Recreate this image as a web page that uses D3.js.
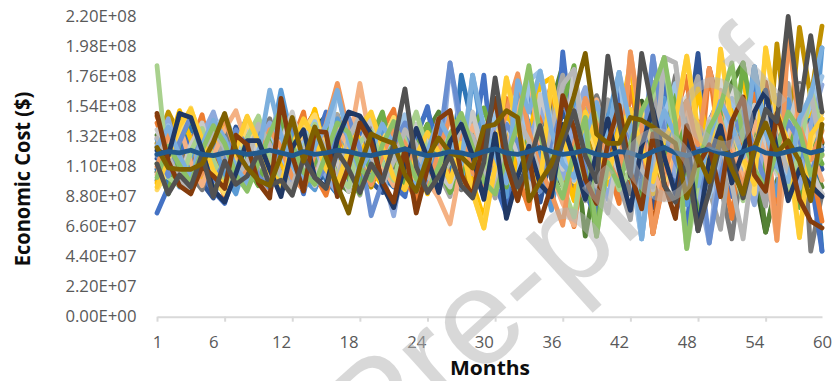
<!DOCTYPE html>
<html>
<head>
<meta charset="utf-8">
<script src="https://cdn.jsdelivr.net/npm/d3@7"></script>
<style>
  html, body { margin: 0; padding: 0; background: #ffffff; }
  svg { display: block; }
</style>
</head>
<body>
<svg id="chart" width="836" height="381"></svg>
<script>
// Month index of every data point
const months = [1,2,3,4,5,6,7,8,9,10,11,12,13,14,15,16,17,18,19,20,
  21,22,23,24,25,26,27,28,29,30,31,32,33,34,35,36,37,38,39,40,
  41,42,43,44,45,46,47,48,49,50,51,52,53,54,55,56,57,58,59,60];

// Axis ticks (cost ticks in millions of dollars)
const xTickLabels = [1, 6, 12, 18, 24, 30, 36, 42, 48, 54, 60];
const xTickMarks = [1, 7, 13, 19, 25, 31, 37, 43, 49, 55];
const yTicks = [0, 22, 44, 66, 88, 110, 132, 154, 176, 198, 220];

// Monthly economic cost per simulation run, millions of dollars
const run01 = [76,95,118,132,104,92,83,110,138,121, 97,142,118,90,126,150,112,95,133,148, 120,96,88,131,154,108,93,140,122,177, 98,75,150,168,112,84,194,120,92,71, 142,165,104,80,151,178,96,67,134,110, 160,88,123,183,95,74,152,130,102,48];
const run02 = [142,118,97,125,148,110,88,102,135,144, 116,92,128,150,104,89,121,143,98,112, 137,152,101,86,118,145,96,109,131,90, 122,160,104,79,142,170,98,66,125,156, 110,83,168,129,61,101,147,176,92,182, 119,72,140,163,99,84,208,146,113,70];
const run03 = [118,136,104,92,128,140,112,95,123,108, 91,117,139,122,100,134,148,113,89,126, 144,118,94,122,139,105,88,130,146,112, 87,135,164,120,96,145,177,110,85,128, 159,98,71,137,172,118,88,150,176,93, 64,128,157,112,81,143,171,96,125,150];
const run04 = [98,124,151,130,102,120,146,125,99,116, 140,113,94,128,152,119,97,141,130,108, 96,127,143,113,90,124,150,119,98,72, 118,148,99,132,170,175,114,85,152,128, 97,141,186,119,90,158,134,105,167,122, 88,149,175,127,101,162,93,140,150,118];
const run05 = [130,109,95,117,141,127,104,90,118,135, 122,166,129,101,93,124,145,120,98,114, 138,124,100,92,126,143,117,95,177,128, 104,88,172,140,115,78,132,162,121,96, 145,179,118,57,126,160,105,82,139,118, 95,147,131,183,114,89,159,125,99,197];
const run06 = [112,90,128,146,121,98,92,134,110,96, 127,143,116,94,113,139,125,102,90,131, 150,114,97,125,141,110,91,104,138,153, 126,95,140,118,92,136,155,184,112,59, 128,150,102,84,141,119,166,98,75,133, 158,109,186,140,97,118,145,80,130,112];
const run07 = [125,145,116,101,133,150,123,104,97,128, 142,120,99,137,125,103,91,118,146,129, 106,74,121,140,115,97,186,131,105,119, 143,112,89,127,154,131,101,147,168,118, 86,129,152,117,191,140,103,126,95,54, 121,147,108,82,136,162,119,94,141,170];
const run08 = [104,128,140,113,96,118,137,151,124,100, 93,121,145,130,105,116,139,124,171,126, 110,96,134,118,100,87,68,112,140,122, 95,123,150,175,128,104,83,67,138,159, 121,97,194,136,108,86,130,154,117,140, 166,125,99,143,117,56,132,160,124,100];
const run09 = [137,115,100,126,142,112,94,121,139,117, 100,128,150,114,96,130,113,92,126,145, 122,103,117,141,128,106,95,125,150,116, 101,142,119,90,163,136,108,181,131,99, 76,125,146,114,93,190,186,122,100,145, 132,97,117,155,128,104,138,169,108,90];
const run10 = [93,108,132,153,126,101,90,115,143,125, 110,92,119,137,148,122,100,133,117,97, 128,146,119,99,112,137,124,101,91,65, 120,175,136,107,93,175,128,99,145,121, 102,134,117,150,125,96,140,191,133,107, 196,138,113,90,197,145,118,58,126,150];
const run11 = [121,140,112,98,119,137,147,128,108,122, 136,118,105,127,143,116,166,130,110,101, 119,133,148,124,102,118,135,142,115,126, 150,118,97,173,180,142,120,100,132,156, 128,179,110,57,122,148,171,130,105,88, 125,160,136,112,147,128,97,135,155,176];
const run12 = [184,102,96,121,138,115,97,108,131,147, 118,99,90,123,141,120,104,95,128,136, 113,100,127,150,121,98,114,138,117,102, 131,104,90,116,140,120,96,73,124,149, 117,93,108,136,161,190,127,50,98,131, 146,112,85,128,142,108,94,121,166,137];
const run13 = [116,131,147,120,98,87,112,139,127,104, 96,125,137,112,94,108,131,142,121,99, 91,117,134,121,95,102,126,139,110,88, 113,145,127,100,84,122,150,134,106,87, 119,161,138,103,80,124,155,129,193,112, 92,136,150,118,166,125,102,147,133,108];
const run14 = [147,124,103,115,134,121,100,95,118,139, 126,105,115,136,150,126,103,97,121,135, 140,116,98,109,127,145,121,100,96,124, 137,110,91,128,153,139,112,95,130,161, 133,105,96,149,61,126,170,143,111,182, 150,118,101,145,172,131,98,120,156,128];
const run15 = [100,113,126,104,93,124,141,116,101,132, 145,119,98,110,133,123,101,94,118,140, 125,106,92,115,138,127,104,93,118,140, 127,103,88,120,148,131,109,97,137,162, 140,113,90,129,154,136,177,99,143,121, 97,57,118,149,130,106,148,171,48,90];
const run16 = [127,150,133,111,99,116,130,110,97,113, 131,148,124,103,117,135,148,126,107,95, 118,139,126,108,96,117,132,107,97,130, 148,122,97,114,135,119,100,154,136,110, 98,127,146,120,95,113,141,158,126,99, 122,151,134,106,96,200,125,212,160,213];
const run17 = [108,96,120,139,123,102,91,127,146,118, 99,113,130,147,121,100,90,115,138,125, 103,95,118,136,151,123,98,177,140,112, 96,121,144,126,103,129,132,107,92,125, 150,131,110,95,138,164,129,104,88,143, 161,120,97,183,140,116,103,130,152,48];
const run18 = [133,110,98,118,140,129,106,93,122,137, 116,97,105,129,144,118,99,92,120,143, 131,109,95,119,136,150,125,103,94,117, 138,119,96,84,121,155,184,130,59,104, 127,149,118,91,133,161,138,105,84,126, 150,171,186,130,62,99,128,154,117,95];
const run19 = [119,103,128,147,120,99,113,137,125,103, 94,122,140,118,98,110,133,146,123,74, 99,126,142,114,97,124,186,140,113,96, 117,141,128,104,92,130,158,137,110,95, 123,152,131,108,191,135,114,97,126,54, 104,131,150,122,98,117,143,129,106,124];
const run20 = [110,134,119,96,105,131,145,122,101,115, 137,124,102,93,120,141,171,135,112,97, 118,139,127,104,92,121,146,131,106,95, 123,150,178,136,109,90,67,125,160,141, 115,98,194,139,61,104,133,158,126,182, 143,117,96,124,151,56,208,140,115,136];
const run21 = [131,118,100,92,115,136,124,102,113,141, 126,104,95,121,139,122,100,131,147,118, 97,114,137,126,103,94,117,140,132,105, 93,121,145,129,104,138,170,181,119,96, 128,150,135,108,95,190,186,124,101,143, 128,97,57,122,148,131,106,140,164,118];
const run22 = [95,117,140,152,130,107,96,123,147,128, 106,98,125,145,131,108,97,122,139,150, 124,102,93,118,135,120,99,127,91,65, 110,175,138,113,97,175,131,104,150,127, 103,136,152,124,99,130,145,191,137,110, 196,141,116,97,197,151,127,58,133,145];
const run23 = [124,139,118,101,126,144,131,109,98,119, 166,133,111,100,125,140,166,128,107,122, 141,126,104,96,121,145,130,112,177,139, 118,98,173,150,180,136,112,102,133,157, 129,179,140,57,125,151,133,109,96,131, 158,140,117,183,135,110,99,145,162,197];
const run24 = [102,125,111,98,122,140,127,104,92,113, 134,152,126,106,97,119,142,135,109,100, 126,143,120,101,92,110,133,149,124,99, 90,116,141,184,133,105,87,120,146,59, 113,96,127,151,166,190,142,50,112,138, 154,186,130,108,94,123,150,137,104,119];
const run25 = [122,118,149,146,122,93,84,105,129,129, 108,88,124,137,102,95,130,150,147,134, 96,80,112,138,116,91,128,141,118,86, 134,72,103,125,97,88,141,116,86,120, 145,108,78,125,152,117,90,135,63,115, 140,98,121,150,166,122,85,108,96,88];
const run26 = [149,114,96,90,110,103,94,133,126,98, 87,160,118,92,136,135,88,110,142,128, 99,84,123,76,109,145,151,104,88,131, 160,112,85,118,70,96,162,138,101,83, 127,155,106,79,134,98,72,140,111,126, 88,143,161,104,92,149,122,86,70,65];
const run27 = [112,90,104,95,119,88,114,97,103,120, 96,100,89,116,102,94,121,108,91,112, 99,126,167,110,91,103,118,96,87,113, 175,123,95,112,140,101,128,151,118,99, 191,142,103,193,150,96,84,115,63,92, 128,116,87,121,152,143,220,151,206,150];
const run28 = [124,109,108,108,112,128,149,122,109,100, 96,118,146,114,139,117,96,76,110,134, 130,127,104,92,117,131,120,117,109,139, 141,151,146,85,99,112,135,162,193,134, 127,127,146,144,139,133,127,87,118,99, 131,108,90,124,142,120,129,114,85,141];
const run29 = [119,121,120,122,119,118,120,121,119,120, 122,120,118,121,119,120,122,121,119,118, 120,121,123,120,118,119,121,120,118,121, 123,120,119,121,124,121,119,120,122,119, 118,121,120,117,121,124,120,118,121,123, 120,118,121,124,120,119,121,123,120,122];
const run30 = [106,127,139,116,99,121,137,112,95,118, 129,107,96,120,138,147,123,103,97,119, 136,114,99,122,141,128,106,95,117,132, 117,97,121,143,131,110,96,127,152,138, 111,95,132,158,127,104,118,141,113,92, 120,149,125,104,62,96,133,118,101,127];

// Runs in drawing order (later runs sit on top) and their line colours
const runs = [run30, run18, run13, run14, run15, run16, run17,
  run01, run02, run03, run04, run05, run06,
  run07, run08, run09, run10, run11, run12,
  run19, run20, run21, run22, run23, run24,
  run25, run26, run27, run28, run29];
const runColors = ["#385723", "#548235", "#2F5597", "#C55A11", "#7B7B7B", "#BF9000", "#2E75B6",
  "#4472C4", "#ED7D31", "#A5A5A5", "#FFC000", "#5B9BD5", "#70AD47",
  "#8FAADC", "#F4B183", "#C9C9C9", "#FFD966", "#9DC3E6", "#A9D18E",
  "#698ED0", "#F1975A", "#B7B7B7", "#FFCD33", "#7CAFDD", "#8CC168",
  "#203864", "#843C0C", "#525252", "#7F6000", "#22598C"];

const svg = d3.select("#chart");
const uiFont = "'Open Sans', 'Noto Sans', sans-serif";

const x = d3.scaleLinear().domain([1, 60]).range([157, 822]);
const y = d3.scaleLinear().domain([0, 220]).range([316.7, 16.5]);

// "2.20E+08" style scientific labels
function sci(vMillions) {
  const s = (vMillions * 1e6).toExponential(2);
  const parts = s.split("e");
  const sign = parts[1][0];
  const exp = parts[1].slice(1).padStart(2, "0");
  return parts[0] + "E" + sign + exp;
}

// Y axis: labels only, no line
const gy = svg.append("g")
  .attr("transform", `translate(${x(1)},0)`)
  .call(d3.axisLeft(y).tickValues(yTicks).tickFormat(sci).tickSize(0).tickPadding(19));
gy.select(".domain").remove();
gy.selectAll("text")
  .attr("fill", "#595959")
  .style("font-family", uiFont)
  .style("font-size", "15.5px")
  .attr("transform", "scale(1.08,1)");

// X axis: light line with tick marks
const gxMarks = svg.append("g")
  .attr("transform", `translate(0,${y(0)})`)
  .call(d3.axisBottom(x).tickValues(xTickMarks).tickFormat("").tickSize(5).tickSizeOuter(0));
gxMarks.select(".domain").attr("stroke", "#d9d9d9").attr("stroke-width", 2);
gxMarks.selectAll(".tick line").attr("stroke", "#d9d9d9").attr("stroke-width", 2);

// X axis: month labels
const gxLabels = svg.append("g")
  .attr("transform", `translate(0,${y(0)})`)
  .call(d3.axisBottom(x).tickValues(xTickLabels).tickFormat(d3.format("d")).tickSize(0).tickPadding(20));
gxLabels.select(".domain").remove();
gxLabels.selectAll("text")
  .attr("fill", "#595959")
  .style("font-family", uiFont)
  .style("font-size", "15.5px")
  .attr("transform", "scale(1.08,1)");

// Simulation runs
const line = d3.line()
  .x((d, i) => x(months[i]))
  .y(d => y(d));

svg.append("g")
  .selectAll("path")
  .data(runs)
  .join("path")
  .attr("d", line)
  .attr("fill", "none")
  .attr("stroke", (d, i) => runColors[i])
  .attr("stroke-width", 4.8)
  .attr("stroke-linejoin", "round")
  .attr("stroke-linecap", "round");

// Axis titles
svg.append("text")
  .attr("transform", "translate(30,179) rotate(-90) scale(1,1.08)")
  .attr("text-anchor", "middle")
  .style("font-family", uiFont)
  .style("font-weight", "bold")
  .style("font-size", "20px")
  .attr("fill", "#0d0d0d")
  .text("Economic Cost ($)");

svg.append("text")
  .attr("transform", "translate(490,375) scale(1.08,1)")
  .attr("text-anchor", "middle")
  .style("font-family", uiFont)
  .style("font-weight", "bold")
  .style("font-size", "19.5px")
  .attr("fill", "#0d0d0d")
  .text("Months");

// Journal watermark across the figure
const mark = svg.append("g")
  .attr("transform", "translate(376,470) rotate(-42)")
  .attr("fill", "#b3b3b3")
  .attr("opacity", 0.5)
  .style("font-family", "'Liberation Sans', Arial, sans-serif")
  .style("font-size", "136px");
mark.append("text").attr("text-anchor", "end").text("Journal ");
mark.append("text").attr("text-anchor", "start").text("Pre-proof");
</script>
</body>
</html>
